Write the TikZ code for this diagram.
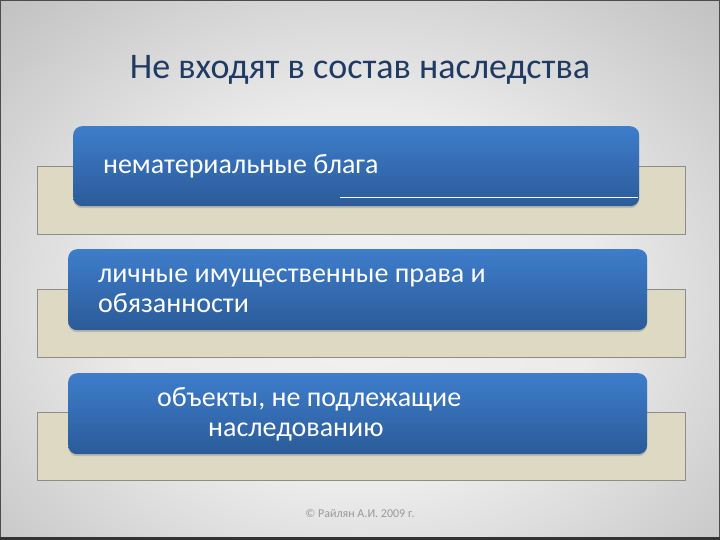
\documentclass[tikz,border=0pt]{standalone}
\usepackage{fontspec}
\setmainfont{Carlito}
\usetikzlibrary{shadows}
\definecolor{titleblue}{HTML}{1F3B63}
\definecolor{beige}{HTML}{DDD9C3}
\definecolor{beigeedge}{HTML}{8C8C8C}
\definecolor{bluetop}{HTML}{3E7DCB}
\definecolor{bluebot}{HTML}{2B5B99}
\pgfdeclareradialshading{bgshade}{\pgfpoint{0bp}{0bp}}{%
  color(0bp)=(white!95!black); color(15bp)=(white!92!black); color(30bp)=(white!78!black);
  color(45bp)=(white!66!black); color(60bp)=(white!58!black); color(100bp)=(white!55!black)}
\tikzset{
  basebox/.style={draw=beigeedge, line width=0.8pt, fill=beige, minimum width=648pt, minimum height=68pt, inner sep=0pt},
  bluebox/.style={rounded corners=9pt, top color=bluetop, bottom color=bluebot, draw=none, inner sep=0pt,
     drop shadow={shadow xshift=0pt, shadow yshift=-2pt, opacity=0.35}},
  itemtext/.style={text=white, font=\fontsize{28}{30}\selectfont, inner sep=0pt, align=left},
}
\begin{document}
\begin{tikzpicture}[x=1pt,y=-1pt]
\useasboundingbox (0,0) rectangle (720,540);
\begin{scope}
\clip (0,0) rectangle (720,540);
\shade[shading=bgshade] (-40,-20) rectangle (760,620);
\end{scope}
\draw[black!70, line width=1.2pt] (0,0) rectangle (720,540);
\fill[black!80] (0,536.5) rectangle (720,540);
\node[text=titleblue, font=\fontsize{36}{40}\selectfont, inner sep=0pt] (title) at (360,70) {Не входят в состав наследства};
% row 1
\node[basebox, anchor=north west] (b1) at (37,166) {};
\node[bluebox, anchor=north west, minimum width=566pt, minimum height=80pt] (c1) at (73,126) {};
\node[itemtext, anchor=west] (t1) at (103,166) {нематериальные блага};
\coordinate (l1a) at (340,197);
\coordinate (l1b) at (638,197);
\draw[white, line width=0.8pt] (l1a) -- (l1b);
% row 2
\node[basebox, anchor=north west] (b2) at (37,289) {};
\node[bluebox, anchor=north west, minimum width=579pt, minimum height=81pt] (c2) at (68,249) {};
\node[itemtext, anchor=west] (t2) at (98,291) {личные имущественные права и\\обязанности};
% row 3
\node[basebox, anchor=north west] (b3) at (37,412) {};
\node[bluebox, anchor=north west, minimum width=579pt, minimum height=81pt] (c3) at (68,373) {};
\node[itemtext, anchor=west] (t3) at (157,414) {объекты, не подлежащие\\\hspace*{51pt}наследованию};
\node[text=black!40, font=\fontsize{12}{14}\selectfont, inner sep=0pt] (copy) at (360,513) {© Райлян А.И. 2009 г.};
\end{tikzpicture}
\end{document}
